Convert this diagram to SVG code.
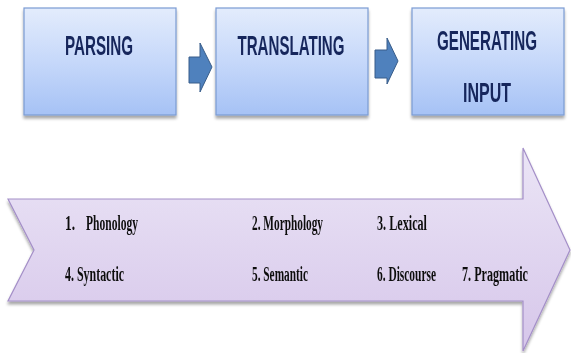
<svg xmlns="http://www.w3.org/2000/svg" width="571" height="353" viewBox="0 0 571 353">
<defs>
<linearGradient id="gBox" x1="0" y1="0" x2="0" y2="1">
<stop offset="0" stop-color="#e3ecfc"/>
<stop offset="0.5" stop-color="#c6d8fa"/>
<stop offset="1" stop-color="#a6c2f5"/>
</linearGradient>
<linearGradient id="gBig" x1="0" y1="0" x2="0" y2="1">
<stop offset="0" stop-color="#ebe5f6"/>
<stop offset="1" stop-color="#d6c6ea"/>
</linearGradient>
<filter id="sh" x="-10%" y="-10%" width="120%" height="130%">
<feGaussianBlur in="SourceAlpha" stdDeviation="1.5"/>
<feOffset dx="0" dy="3" result="b"/>
<feComponentTransfer><feFuncA type="linear" slope="0.35"/></feComponentTransfer>
<feMerge><feMergeNode/><feMergeNode in="SourceGraphic"/></feMerge>
</filter>
</defs>
<style>
.box{fill:url(#gBox);stroke:#7b9bd3;stroke-width:1.2}
.ttl{font-family:"Liberation Sans",Arial,sans-serif;font-weight:bold;font-size:27px;fill:#17275c;text-anchor:middle}
.sm{fill:#4f81bd;stroke:#385d8a;stroke-width:1}
.big{fill:url(#gBig);stroke:#a48fc8;stroke-width:1.2}
.lbl{font-family:"Liberation Serif","Times New Roman",serif;font-weight:bold;font-size:21px;fill:#111}
</style>
<rect width="571" height="353" fill="#ffffff"/>
<g id="parsing" filter="url(#sh)">
<rect class="box" x="24" y="8" width="152" height="107"/>
<text class="ttl" transform="translate(99,55) scale(0.555,1)" textLength="122.5" lengthAdjust="spacingAndGlyphs">PARSING</text>
</g>
<g id="translating" filter="url(#sh)">
<rect class="box" x="216" y="8" width="152" height="107"/>
<text class="ttl" transform="translate(291,55) scale(0.555,1)" textLength="192.8" lengthAdjust="spacingAndGlyphs">TRANSLATING</text>
</g>
<g id="generating" filter="url(#sh)">
<rect class="box" x="412" y="8" width="152" height="107"/>
<text class="ttl" transform="translate(487,50) scale(0.555,1)" textLength="180.2" lengthAdjust="spacingAndGlyphs">GENERATING</text>
<text class="ttl" transform="translate(487,102) scale(0.555,1)" textLength="86.5" lengthAdjust="spacingAndGlyphs">INPUT</text>
</g>
<g id="connectors">
<polygon class="sm" points="189,57 200,57 200,43 212,67 200,92 200,83 189,83"/>
<polygon class="sm" points="375,50 387,50 387,38 398,61 387,84 387,78 375,78"/>
</g>
<g id="process-arrow" filter="url(#sh)">
<polygon class="big" points="8,199 523,199 523,148 570,250 523,351 523,301 8,301 34,250"/>
<text class="lbl" transform="translate(65,230) scale(0.55,1)" textLength="18.2" lengthAdjust="spacingAndGlyphs">1.</text>
<text class="lbl" transform="translate(86,230) scale(0.55,1)" textLength="94.5" lengthAdjust="spacingAndGlyphs">Phonology</text>
<text class="lbl" transform="translate(252,230) scale(0.55,1)" textLength="129.1" lengthAdjust="spacingAndGlyphs">2. Morphology</text>
<text class="lbl" transform="translate(377,230) scale(0.55,1)" textLength="90.9" lengthAdjust="spacingAndGlyphs">3. Lexical</text>
<text class="lbl" transform="translate(65,281) scale(0.55,1)" textLength="107.3" lengthAdjust="spacingAndGlyphs">4. Syntactic</text>
<text class="lbl" transform="translate(252,281) scale(0.55,1)" textLength="101.8" lengthAdjust="spacingAndGlyphs">5. Semantic</text>
<text class="lbl" transform="translate(377,281) scale(0.55,1)" textLength="107.3" lengthAdjust="spacingAndGlyphs">6. Discourse</text>
<text class="lbl" transform="translate(462,281) scale(0.55,1)" textLength="120" lengthAdjust="spacingAndGlyphs">7. Pragmatic</text>
</g>
</svg>
